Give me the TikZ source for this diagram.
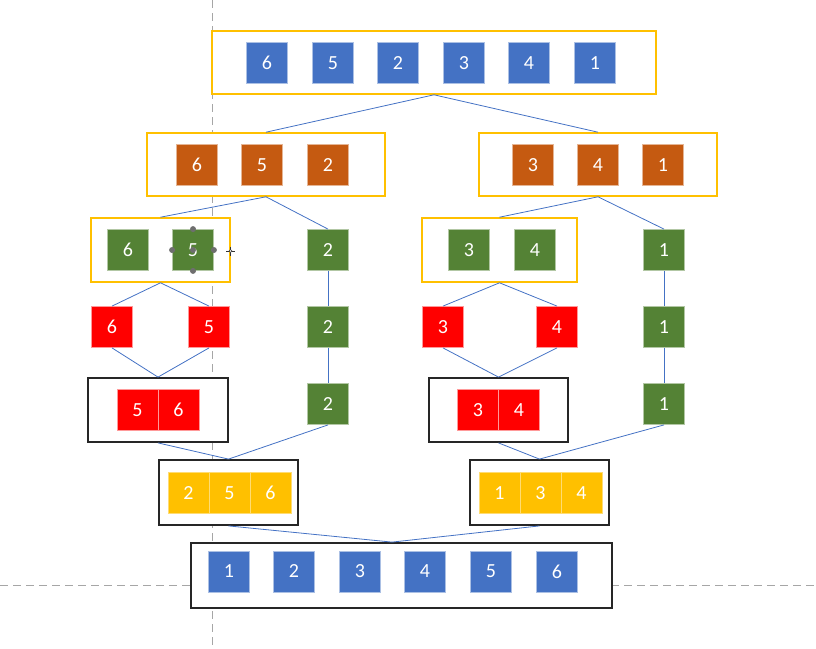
\documentclass[tikz,border=0pt]{standalone}
\usepackage{fontspec}
\setmainfont{Carlito}
\definecolor{cellblue}{HTML}{4472C4}
\definecolor{cellorange}{HTML}{C55A11}
\definecolor{cellgreen}{HTML}{548235}
\definecolor{cellred}{HTML}{FF0000}
\definecolor{cellgold}{HTML}{FFC000}
\definecolor{guidegray}{HTML}{A6A6A6}
\definecolor{handlegray}{HTML}{6E6E6E}

\begin{document}
\begin{tikzpicture}[
                x=1pt,y=-1pt,
                cell/.style={minimum size=41pt,inner sep=0pt,text=white,
                             font=\fontsize{20}{24}\selectfont,line width=0.8pt},
                bluecell/.style={cell,fill=cellblue,draw=cellblue!45!white},
                orangecell/.style={cell,fill=cellorange,draw=cellorange!45!white},
                greencell/.style={cell,fill=cellgreen,draw=cellgreen!45!white},
                redcell/.style={cell,fill=cellred,draw=cellred!40!white},
                goldcell/.style={cell,fill=cellgold,draw=cellgold!55!white},
                goldbox/.style={draw=cellgold,fill=white,line width=1.6pt,inner sep=0pt},
                blackbox/.style={draw=black!85,fill=white,line width=1.8pt,inner sep=0pt},
                link/.style={draw=cellblue,line width=0.8pt},
                guide/.style={draw=guidegray,line width=0.8pt,dash pattern=on 8pt off 5pt},
                handle/.style={fill=handlegray,draw=none}] %

\useasboundingbox (0,0) rectangle (816,648);

% guides
\draw[guide] (212,0) -- (212,648);
\draw[guide] (0,585) -- (816,585);

                    % level 0
                    \node[goldbox,minimum width=444pt,minimum height=63pt] (Top) at (434,62.5) {};
                    \node[bluecell] (TopA) at (267,63) {6};
                    \node[bluecell] (TopB) at (333,63) {5};
                    \node[bluecell] (TopC) at (398,63) {2};
                    \node[bluecell] (TopD) at (464,63) {3};
                    \node[bluecell] (TopE) at (529,63) {4};
                    \node[bluecell] (TopF) at (595,63) {1};

                    % level 1
                    \node[goldbox,minimum width=238pt,minimum height=63pt] (SplitL) at (266,164.5) {};
                    \node[orangecell] (SplitLA) at (197,165) {6};
                    \node[orangecell] (SplitLB) at (262,165) {5};
                    \node[orangecell] (SplitLC) at (328,165) {2};

                    \node[goldbox,minimum width=238pt,minimum height=63pt] (SplitR) at (598,164.5) {};
                    \node[orangecell] (SplitRA) at (533,165) {3};
                    \node[orangecell] (SplitRB) at (598,165) {4};
                    \node[orangecell] (SplitRC) at (663,165) {1};

                    \draw[link] (Top.south) to (SplitL.north);
                    \draw[link] (Top.south) to (SplitR.north);

                    % level 2
                    \node[goldbox,minimum width=139pt,minimum height=64pt] (PairL) at (160.5,250) {};
                    \node[greencell] (PairLA) at (128,250) {6};
                    \node[greencell] (PairLB) at (193,250) {5};
                    \node[greencell] (SoloL1) at (328,250) {2};

                    \node[goldbox,minimum width=155pt,minimum height=64pt] (PairR) at (499.5,250) {};
                    \node[greencell] (PairRA) at (469,250) {3};
                    \node[greencell] (PairRB) at (535,250) {4};
                    \node[greencell] (SoloR1) at (664,250) {1};

                    \draw[link] (SplitL.south) to (PairL.north);
                    \draw[link] (SplitL.south) to (SoloL1.north);
                    \draw[link] (SplitR.south) to (PairR.north);
                    \draw[link] (SplitR.south) to (SoloR1.north);

 % selection handles on the 5
                    \fill[handle] (PairLB.north) circle (3pt);
                    \fill[handle] (PairLB.south) circle (3pt);
                    \fill[handle] (PairLB.west) circle (3pt);
                    \fill[handle] (PairLB.east) circle (3pt);
                    \fill[handle] (PairLB.center) circle (3pt);
                    \draw[black!80,line width=0.6pt] (226,251) -- (235,251) (230.5,246.5) -- (230.5,255.5);
                    \draw[black!80,fill=white,line width=0.5pt] (230.5,251) circle (1.5pt);

                    % level 3
                    \node[redcell] (OneL6) at (112,327) {6};
                    \node[redcell] (OneL5) at (209,327) {5};
                    \node[greencell] (SoloL2) at (328,327) {2};

                    \node[redcell] (OneR3) at (443,327) {3};
                    \node[redcell] (OneR4) at (557,327) {4};
                    \node[greencell] (SoloR2) at (664,327) {1};

                    \draw[link] (PairL.south) to (OneL6.north);
                    \draw[link] (PairL.south) to (OneL5.north);
                    \draw[link] (PairR.south) to (OneR3.north);
                    \draw[link] (PairR.south) to (OneR4.north);
                    \draw[link] (SoloL1) to (SoloL2);
                    \draw[link] (SoloR1) to (SoloR2);

                    % level 4
                    \node[blackbox,minimum width=140pt,minimum height=64pt] (MergeL) at (158,410) {};
                    \node[redcell] (MergeLA) at (137.5,410) {5};
                    \node[redcell] (MergeLB) at (178.5,410) {6};
                    \node[greencell] (SoloL3) at (328,404) {2};

                    \node[blackbox,minimum width=139pt,minimum height=64pt] (MergeR) at (498.5,410) {};
                    \node[redcell] (MergeRA) at (478,410) {3};
                    \node[redcell] (MergeRB) at (519,410) {4};
                    \node[greencell] (SoloR3) at (664,404) {1};

                    \draw[link] (OneL6.south) to (MergeL.north);
                    \draw[link] (OneL5.south) to (MergeL.north);
                    \draw[link] (OneR3.south) to (MergeR.north);
                    \draw[link] (OneR4.south) to (MergeR.north);
                    \draw[link] (SoloL2) to (SoloL3);
                    \draw[link] (SoloR2) to (SoloR3);

                    % level 5
                    \node[blackbox,minimum width=139pt,minimum height=65pt] (HalfL) at (228.5,492.5) {};
                    \node[goldcell] (HalfLA) at (188.5,493) {2};
                    \node[goldcell] (HalfLB) at (229.5,493) {5};
                    \node[goldcell] (HalfLC) at (270.5,493) {6};

                    \node[blackbox,minimum width=139pt,minimum height=65pt] (HalfR) at (539.5,492.5) {};
                    \node[goldcell] (HalfRA) at (499.5,493) {1};
                    \node[goldcell] (HalfRB) at (540.5,493) {3};
                    \node[goldcell] (HalfRC) at (581.5,493) {4};

                    \draw[link] (MergeL.south) to (HalfL.north);
                    \draw[link] (SoloL3.south) to (HalfL.north);
                    \draw[link] (MergeR.south) to (HalfR.north);
                    \draw[link] (SoloR3.south) to (HalfR.north);

 % sorted result
                    \node[blackbox,minimum width=421pt,minimum height=65pt] (Bottom) at (401.5,575.5) {};
                    \node[bluecell] (BottomA) at (229,571.5) {1};
                    \node[bluecell] (BottomB) at (294,571.5) {2};
                    \node[bluecell] (BottomC) at (360,571.5) {3};
                    \node[bluecell] (BottomD) at (425,571.5) {4};
                    \node[bluecell] (BottomE) at (491,571.5) {5};
                    \node[bluecell] (BottomF) at (557,571.5) {6};

                    \draw[link] (HalfL.south) to ([xshift=-9.5pt]Bottom.north);
                    \draw[link] (HalfR.south) to ([xshift=-9.5pt]Bottom.north);

\end{tikzpicture}
\end{document}
